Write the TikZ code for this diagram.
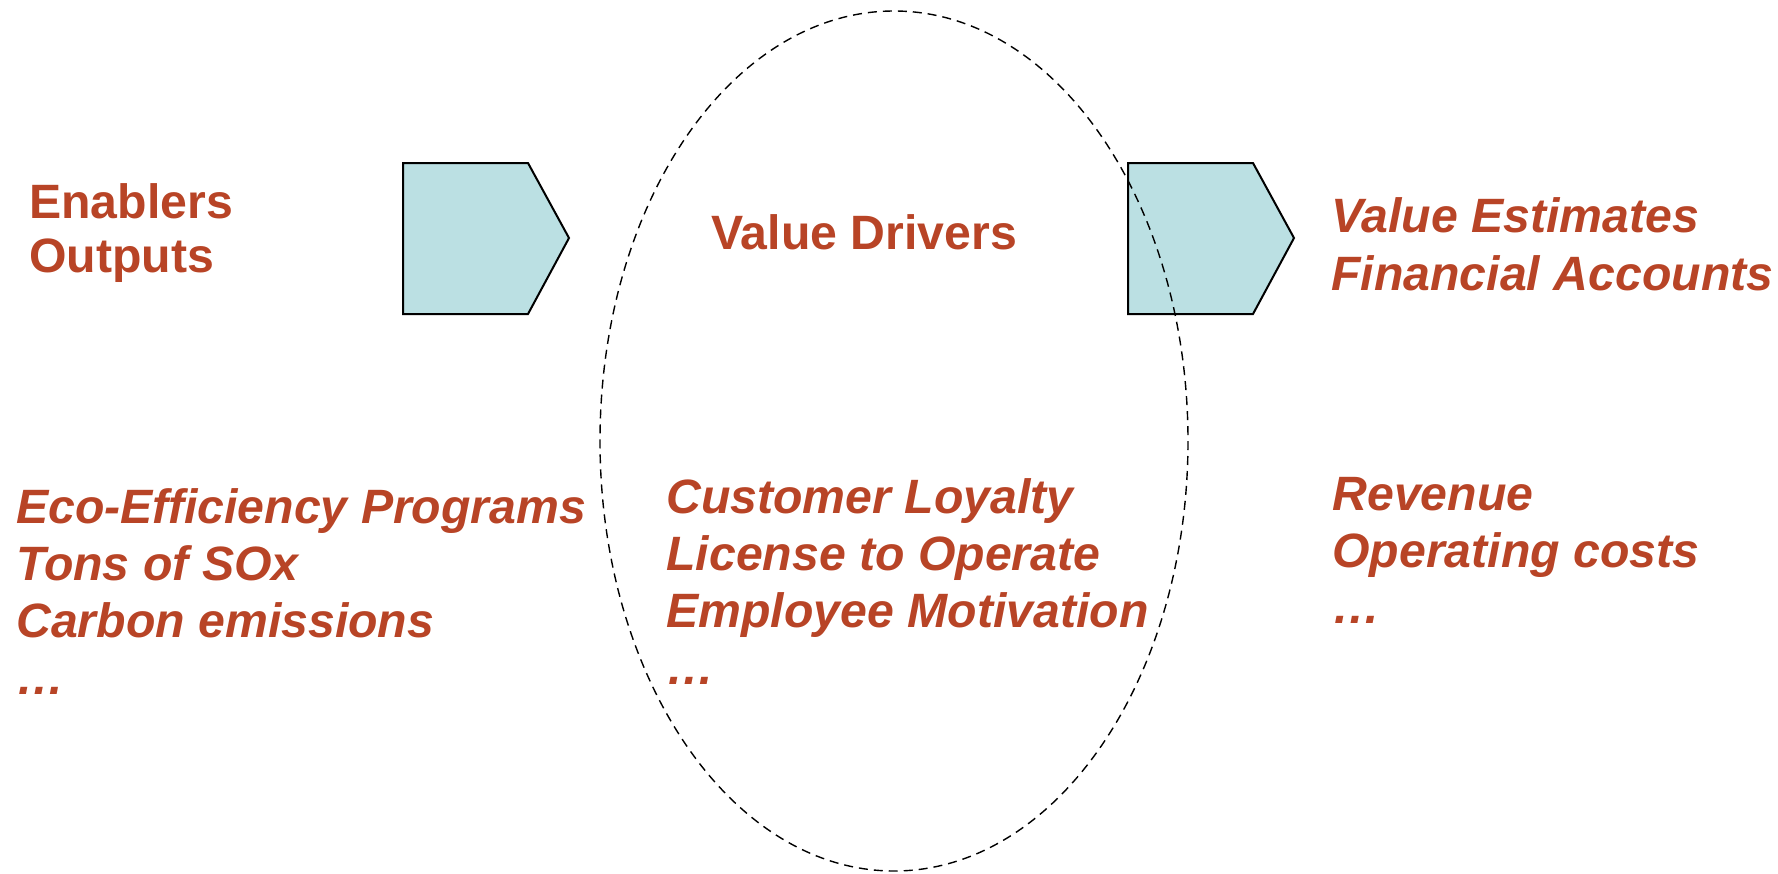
\documentclass[tikz,border=0pt]{standalone}
\usepackage{fontspec}
\setmainfont{Liberation Sans}
\definecolor{rust}{RGB}{184,68,38}
\definecolor{paleteal}{RGB}{187,224,227}
\tikzset{
  lbl/.style={anchor=base west, inner sep=0pt, text=rust, font=\fontsize{24.1}{28}\selectfont\bfseries},
  ilbl/.style={lbl, font=\fontsize{24.1}{28}\selectfont\bfseries\itshape},
  pent/.style={draw=black, fill=paleteal, line width=1pt, line join=miter},
  oval/.style={draw=black, line width=0.7pt, dash pattern=on 4.5pt off 3pt}
}
\begin{document}
\begin{tikzpicture}[x=0.5pt, y=-0.5pt]
\useasboundingbox (0,0) rectangle (1778,873);
% arrows
\draw[pent] (403,163) -- (528,163) -- (569,238) -- (528,314) -- (403,314) -- cycle;
\draw[pent] (1128,163) -- (1253,163) -- (1294,238) -- (1253,314) -- (1128,314) -- cycle;
% headings
\node[lbl] (en) at (29,218) {Enablers};
\node[lbl] (out) at (29,272) {Outputs};
\node[lbl] (vd) at (711,249) {Value Drivers};
\node[ilbl] (ve) at (1331,232) {Value Estimates};
\node[ilbl] (fa) at (1331,290) {Financial Accounts};
% left list
\node[ilbl] (l1) at (16,523) {Eco-Efficiency Programs};
\node[ilbl] (l2) at (16,580) {Tons of SOx};
\node[ilbl] (l3) at (16,637) {Carbon emissions};
\node[ilbl] (l4) at (16,694) {…};
% middle list
\node[ilbl] (m1) at (666,513) {Customer Loyalty};
\node[ilbl] (m2) at (666,570) {License to Operate};
\node[ilbl] (m3) at (666,627) {Employee Motivation};
\node[ilbl] (m4) at (666,684) {…};
% right list
\node[ilbl] (r1) at (1332,510) {Revenue};
\node[ilbl] (r2) at (1332,567) {Operating costs};
\node[ilbl] (r3) at (1332,623) {…};
% ellipse
\draw[oval] (894,441) ellipse [x radius=294, y radius=430];
\end{tikzpicture}
\end{document}
